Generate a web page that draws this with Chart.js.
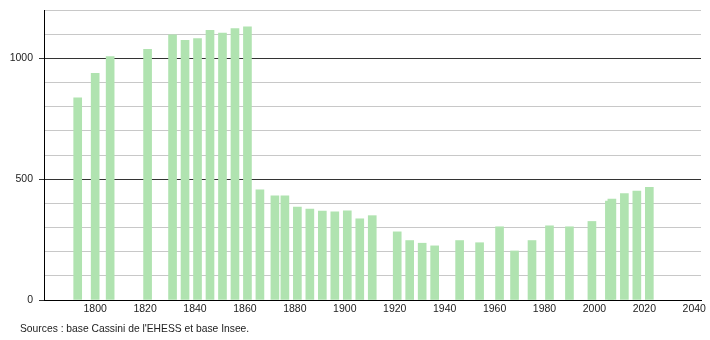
<!DOCTYPE html>
<html>
<head>
<meta charset="utf-8">
<script src="https://cdn.jsdelivr.net/npm/chart.js@4"></script>
<style>
  body { margin: 0; background: #fff; }
  #wrap { position: relative; width: 710px; height: 340px; }
  #source {
    position: absolute; left: 20px; top: 323px;
    font: 10.3px "Liberation Sans", Arial, sans-serif; color: #222;
  }
</style>
</head>
<body>
<div id="wrap">
  <canvas id="popChart" width="710" height="340"></canvas>
  <div id="source">Sources : base Cassini de l'EHESS et base Insee.</div>
</div>
<script>
// population per census year
const years = [1793, 1800, 1806, 1821, 1831, 1836, 1841, 1846, 1851, 1856, 1861,
  1866, 1872, 1876, 1881, 1886, 1891, 1896, 1901, 1906, 1911,
  1921, 1926, 1931, 1936, 1946, 1954, 1962, 1968, 1975, 1982, 1990, 1999,
  2006, 2007, 2012, 2017, 2022];
const population = [837, 938, 1007, 1037, 1097, 1075, 1082, 1116, 1104, 1123, 1130,
  456, 431, 431, 385, 376, 368, 365, 369, 336, 349,
  282, 246, 235, 224, 246, 237, 303, 203, 246, 307, 303, 325,
  409, 418, 440, 451, 466];
const xTicks = [1800, 1820, 1840, 1860, 1880, 1900, 1920, 1940, 1960, 1980, 2000, 2020, 2040];
const yLabels = [0, 500, 1000];

const font = { family: '"Liberation Sans", Arial, sans-serif', size: 10.5 };

const ctx = document.getElementById('popChart').getContext('2d');
new Chart(ctx, {
  type: 'bar',
  data: {
    datasets: [{
      data: years.map((y, i) => ({ x: y, y: population[i] })),
      backgroundColor: '#b0e3b0',
      barThickness: 8
    }]
  },
  options: {
    responsive: false,
    animation: false,
    devicePixelRatio: 1,
    layout: { padding: { top: 10, right: 9, left: 0, bottom: 0 } },
    plugins: { legend: { display: false }, tooltip: { enabled: false } },
    scales: {
      x: {
        type: 'linear',
        offset: false,
        min: 1779.5,
        max: 2042.7,
        afterBuildTicks: scale => { scale.ticks = xTicks.map(v => ({ value: v })); },
        afterFit: scale => { scale.height = 40; },
        grid: { display: false, drawTicks: false },
        border: { display: true, color: '#000', width: 1 },
        ticks: { font: font, color: '#222', padding: 3, maxRotation: 0, autoSkip: false,
          callback: v => String(v) }
      },
      y: {
        min: 0,
        max: 1200,
        afterFit: scale => { scale.width = 44; scale.paddingTop = 0; },
        grid: {
          color: c => (c.tick.value % 500 === 0 ? '#333' : '#c8c8c8'),
          tickColor: c => (c.tick.value % 500 === 0 ? '#333' : 'rgba(0,0,0,0)'),
          tickLength: 5
        },
        border: { display: true, color: '#000', width: 1 },
        ticks: {
          stepSize: 100,
          font: font,
          color: '#222',
          padding: 6,
          callback: v => (yLabels.includes(v) ? String(v) : '')
        }
      }
    }
  }
});
</script>
</body>
</html>
